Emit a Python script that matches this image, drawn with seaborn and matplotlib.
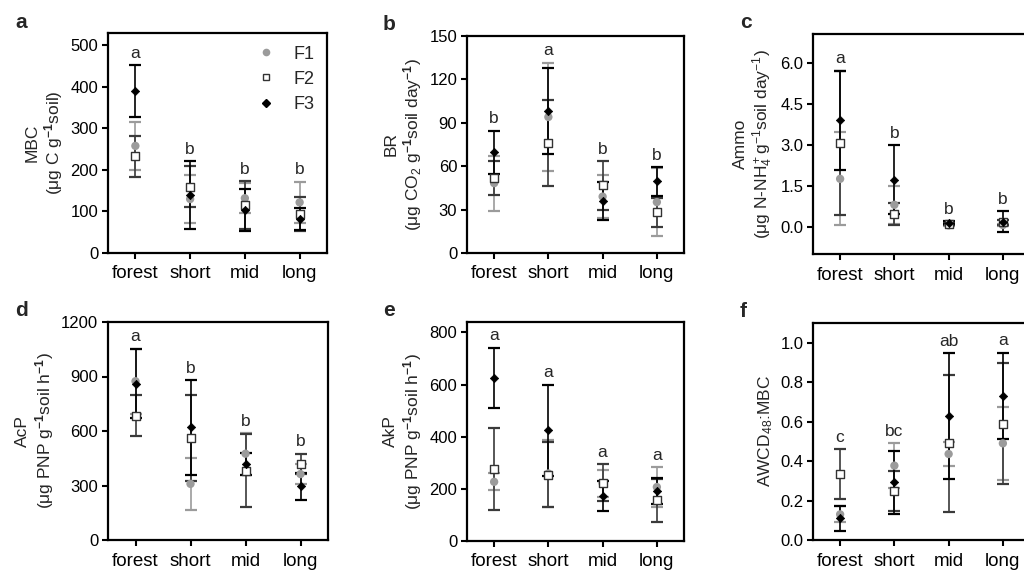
import numpy as np
import pandas as pd
import matplotlib
matplotlib.use("Agg")
import matplotlib.pyplot as plt
import seaborn as sns
from matplotlib.lines import Line2D

# ---------------- data ----------------
categories = ["forest", "short", "mid", "long"]
series = ["F1", "F2", "F3"]

# a: MBC
mbc_F1 = [258, 130, 132, 122]
mbc_F1_err = [58, 57, 36, 50]
mbc_F2 = [233, 160, 115, 94]
mbc_F2_err = [49, 50, 58, 40]
mbc_F3 = [390, 140, 104, 82]
mbc_F3_err = [62, 82, 50, 27]
mbc_letters = ["a", "b", "b", "b"]

# b: BR
br_F1 = [48.3, 94, 39, 35.2]
br_F1_err = [19, 37.6, 15, 23.7]
br_F2 = [51.8, 76, 46.7, 28.3]
br_F2_err = [12, 30, 17, 10]
br_F3 = [69.5, 98, 36, 49.5]
br_F3_err = [15, 29.6, 13, 10]
br_letters = ["b", "a", "b", "b"]

# c: Ammo
ammo_F1 = [1.75, 0.80, 0.05, 0.06]
ammo_F1_err = [1.70, 0.70, 0.04, 0.05]
ammo_F2 = [3.07, 0.45, 0.10, 0.16]
ammo_F2_err = [2.64, 0.40, 0.05, 0.10]
ammo_F3 = [3.89, 1.72, 0.14, 0.18]
ammo_F3_err = [1.82, 1.26, 0.05, 0.38]
ammo_letters = ["a", "b", "b", "b"]

# d: AcP
acp_F1 = [874, 309, 475, 363]
acp_F1_err = [180, 145, 115, 55]
acp_F2 = [685, 560, 381, 418]
acp_F2_err = [115, 237, 200, 57]
acp_F3 = [860, 620, 420, 295]
acp_F3_err = [190, 260, 60, 75]
acp_letters = ["a", "b", "b", "b"]

# e: AkP
akp_F1 = [227, 259, 222, 207]
akp_F1_err = [32, 127, 52, 75]
akp_F2 = [275, 255, 223, 156]
akp_F2_err = [158, 123, 71, 83]
akp_F3 = [627, 425, 172, 192]
akp_F3_err = [115, 175, 58, 50]
akp_letters = ["a", "a", "a", "a"]

# f: AWCD48:MBC
awcd_F1 = [0.13, 0.377, 0.436, 0.49]
awcd_F1_err = [0.04, 0.113, 0.06, 0.185]
awcd_F2 = [0.334, 0.248, 0.49, 0.59]
awcd_F2_err = [0.127, 0.10, 0.348, 0.305]
awcd_F3 = [0.11, 0.292, 0.628, 0.73]
awcd_F3_err = [0.064, 0.16, 0.32, 0.22]
awcd_letters = ["c", "bc", "ab", "a"]

# ---------------- style ----------------
sns.set_style("ticks")
plt.rcParams["font.family"] = ["Liberation Sans", "DejaVu Sans"]
plt.rcParams["mathtext.fontset"] = "custom"
plt.rcParams["mathtext.rm"] = "Liberation Sans"
plt.rcParams["mathtext.it"] = "Liberation Sans"
plt.rcParams["mathtext.bf"] = "Liberation Sans:bold"
plt.rcParams["mathtext.default"] = "regular"

W, H = 1024, 571
fig = plt.figure(figsize=(W / 100, H / 100), dpi=100)

def px_axes(left, top, right, bottom):
    return fig.add_axes([left / W, 1 - bottom / H, (right - left) / W, (bottom - top) / H])

styles = {
    "F1": dict(marker="o", s=36, color="#9b9b9b", edgecolor="none", linewidth=0, ecolor="#9b9b9b"),
    "F2": dict(marker="s", s=28, color="white", edgecolor="#333333", linewidth=1.0, ecolor="#3a3a3a"),
    "F3": dict(marker="D", s=18, color="black", edgecolor="black", linewidth=0.5, ecolor="black"),
}

panels = [
    dict(letter="a", box=(108, 33, 327, 253), means=[mbc_F1, mbc_F2, mbc_F3],
         errs=[mbc_F1_err, mbc_F2_err, mbc_F3_err], sig=mbc_letters,
         ylim=(0, 530), yticks=[0, 100, 200, 300, 400, 500], fmt="{:.0f}",
         ylabel="MBC\n(μg C g$^{\\mathbf{-1}}$soil)", legend=True),
    dict(letter="b", box=(467, 36, 684, 253), means=[br_F1, br_F2, br_F3],
         errs=[br_F1_err, br_F2_err, br_F3_err], sig=br_letters,
         ylim=(0, 150), yticks=[0, 30, 60, 90, 120, 150], fmt="{:.0f}",
         ylabel="BR\n(μg CO$_2$ g$^{\\mathbf{-1}}$soil day$^{\\mathbf{-1}}$)", legend=False),
    dict(letter="c", box=(813, 34, 1030, 254), means=[ammo_F1, ammo_F2, ammo_F3],
         errs=[ammo_F1_err, ammo_F2_err, ammo_F3_err], sig=ammo_letters,
         ylim=(-1.0, 7.05), yticks=[0.0, 1.5, 3.0, 4.5, 6.0], fmt="{:.1f}",
         ylabel="Ammo\n(μg N-NH$_4^+$g$^{-1}$soil day$^{-1}$)", legend=False),
    dict(letter="d", box=(108, 322, 328, 540), means=[acp_F1, acp_F2, acp_F3],
         errs=[acp_F1_err, acp_F2_err, acp_F3_err], sig=acp_letters,
         ylim=(0, 1200), yticks=[0, 300, 600, 900, 1200], fmt="{:.0f}",
         ylabel="AcP\n(μg PNP g$^{\\mathbf{-1}}$soil h$^{\\mathbf{-1}}$)", legend=False),
    dict(letter="e", box=(467, 322, 684, 541), means=[akp_F1, akp_F2, akp_F3],
         errs=[akp_F1_err, akp_F2_err, akp_F3_err], sig=akp_letters,
         ylim=(0, 840), yticks=[0, 200, 400, 600, 800], fmt="{:.0f}",
         ylabel="AkP\n(μg PNP g$^{\\mathbf{-1}}$soil h$^{\\mathbf{-1}}$)", legend=False),
    dict(letter="f", box=(813, 323, 1030, 540), means=[awcd_F1, awcd_F2, awcd_F3],
         errs=[awcd_F1_err, awcd_F2_err, awcd_F3_err], sig=awcd_letters,
         ylim=(0, 1.1), yticks=[0.0, 0.2, 0.4, 0.6, 0.8, 1.0], fmt="{:.1f}",
         ylabel="AWCD$_{48}$:MBC", legend=False),
]

for p in panels:
    l, t, r, b = p["box"]
    ax = px_axes(l, t, r, b)
    xpos = np.arange(len(categories))
    # error bars first (behind markers)
    for name, m, e in zip(series, p["means"], p["errs"]):
        st = styles[name]
        ax.errorbar(xpos, m, yerr=e, fmt="none", ecolor=st["ecolor"],
                    elinewidth=1.2, capsize=4.2, capthick=1.6, zorder=2)
    # markers through seaborn
    for name, m in zip(series, p["means"]):
        st = styles[name]
        df = pd.DataFrame({"pos": xpos, "value": m})
        sns.scatterplot(data=df, x="pos", y="value", ax=ax, marker=st["marker"],
                        s=st["s"], color=st["color"], edgecolor=st["edgecolor"],
                        linewidth=st["linewidth"], zorder=4 + series.index(name),
                        legend=False)
    # significance letters
    tops = np.max(np.array(p["means"]) + np.array(p["errs"]), axis=0)
    for xi, (txt, top) in enumerate(zip(p["sig"], tops)):
        ax.annotate(txt, (xi, top), xytext=(0, 8.5), textcoords="offset points",
                    ha="center", va="center", fontsize=12.5)
    ax.set_xlim(-0.5, 3.5)
    ax.set_ylim(*p["ylim"])
    ax.set_xticks(xpos)
    ax.set_xticklabels(categories, fontsize=13.5)
    ax.set_yticks(p["yticks"])
    ax.set_yticklabels([p["fmt"].format(v) for v in p["yticks"]], fontsize=12)
    ax.set_xlabel("")
    ax.set_ylabel(p["ylabel"], fontsize=12.5, labelpad=4, linespacing=1.15)
    for sp in ax.spines.values():
        sp.set_linewidth(1.6)
        sp.set_color("black")
        sp.set_visible(True)
    ax.tick_params(axis="both", direction="out", length=4, width=1.5, colors="black",
                   pad=3)
    ax.tick_params(axis="x", pad=5)
    if p["legend"]:
        handles = [
            Line2D([], [], linestyle="none", marker="o", markersize=5.5,
                   markerfacecolor="#9b9b9b", markeredgecolor="none"),
            Line2D([], [], linestyle="none", marker="s", markersize=5,
                   markerfacecolor="white", markeredgecolor="#333333", markeredgewidth=1.0),
            Line2D([], [], linestyle="none", marker="D", markersize=4.2,
                   markerfacecolor="black", markeredgecolor="black"),
        ]
        ax.legend(handles, series, loc="upper right", frameon=False, fontsize=13,
                  handlelength=1.0, handletextpad=1.0, labelspacing=0.45,
                  borderaxespad=0.3)
    # panel letter
    fig.text((l - 93 if p["letter"] in "ad" else l - 84 + (0 if p["letter"] in "be" else 11)) / W,
             1 - (t - 11) / H, p["letter"], fontsize=15, fontweight="bold",
             ha="left", va="center")

fig.savefig("out.png", dpi=100)
